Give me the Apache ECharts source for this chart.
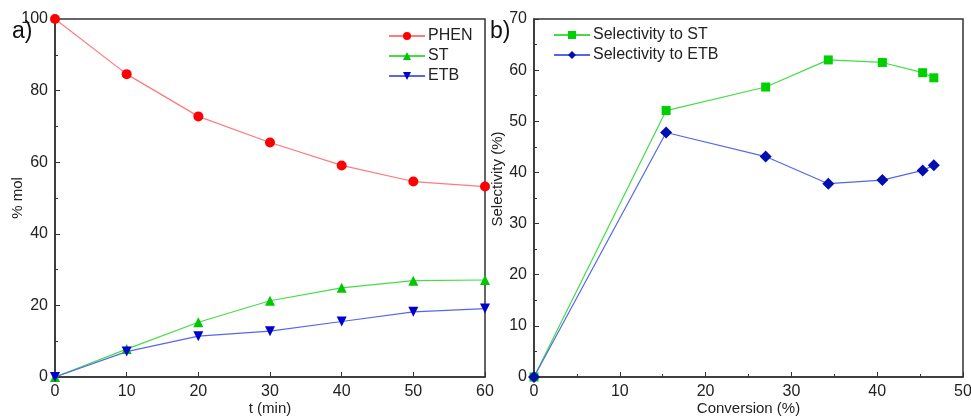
<!DOCTYPE html>
<html>
<head>
<meta charset="utf-8">
<script src="https://cdn.jsdelivr.net/npm/echarts@6/dist/echarts.min.js"></script>
<style>
  html, body { margin: 0; padding: 0; background: #fff; }
  #main { width: 971px; height: 417px; }
</style>
</head>
<body>
<div id="main"></div>
<script>
// panel a) composition vs time
var time = [0, 10, 20, 30, 40, 50, 60]
var phen = [100, 84.6, 72.8, 65.5, 59.1, 54.6, 53.2]
var st = [0, 7.8, 15.3, 21.3, 24.9, 26.9, 27.1]
var etb = [0, 7.1, 11.4, 12.8, 15.5, 18.2, 19.1]

// panel b) selectivity vs conversion
var conversion = [0, 15.4, 27.0, 34.3, 40.6, 45.3, 46.6]
var selST = [0, 52.1, 56.7, 62.0, 61.5, 59.5, 58.5]
var selETB = [0, 47.8, 43.1, 37.8, 38.5, 40.4, 41.4]

function pairs(xs, ys) {
  return xs.map(function (x, i) { return [x, ys[i]] })
}

var font = 'Liberation Sans, Arial, sans-serif'
var axisColor = '#333'

function valueAxis(opts) {
  return Object.assign({
    type: 'value',
    nameLocation: 'middle',
    nameMoveOverlap: false,
    nameTextStyle: {color: '#222', fontSize: 15, fontFamily: font},
    axisLine: {show: true, onZero: false, lineStyle: {color: axisColor, width: 1.5}},
    axisTick: {show: true, inside: true, length: 5, lineStyle: {color: axisColor, width: 1}},
    minorTick: {show: false},
    axisLabel: {color: '#222', fontSize: 16, fontFamily: font, margin: 7},
    splitLine: {show: false}
  }, opts)
}

var mainEcharts = echarts.init(document.getElementById('main'))
mainEcharts.setOption({
  backgroundColor: '#fff',
  animation: false,
  title: [
    {text: 'a)', left: 12, top: 20, padding: 0, textStyle: {fontSize: 23, fontWeight: 'normal', color: '#111', fontFamily: font}},
    {text: 'b)', left: 490, top: 20, padding: 0, textStyle: {fontSize: 23, fontWeight: 'normal', color: '#111', fontFamily: font}}
  ],
  legend: [
    {
      data: ['PHEN', 'ST', 'ETB'],
      orient: 'vertical',
      left: 388, top: 28, padding: 0,
      itemWidth: 36, itemHeight: 10, itemGap: 4,
      textStyle: {fontSize: 16, fontFamily: font, color: '#222', padding: [0, 0, 0, -2]}
    },
    {
      data: ['Selectivity to ST', 'Selectivity to ETB'],
      orient: 'vertical',
      left: 553, top: 27, padding: 0,
      itemWidth: 36, itemHeight: 10, itemGap: 4,
      textStyle: {fontSize: 16, fontFamily: font, color: '#222', padding: [0, 0, 0, -2]}
    }
  ],
  grid: [
    {left: 55, right: 486, top: 19, bottom: 40, outerBoundsMode: 'none', show: true, borderColor: axisColor, borderWidth: 1.5, backgroundColor: 'transparent'},
    {left: 534, right: 8, top: 19, bottom: 40, outerBoundsMode: 'none', show: true, borderColor: axisColor, borderWidth: 1.5, backgroundColor: 'transparent'}
  ],
  xAxis: [
    valueAxis({gridIndex: 0, min: 0, max: 60, interval: 10, name: 't (min)', nameGap: 24}),
    valueAxis({gridIndex: 1, min: 0, max: 50, interval: 10, name: 'Conversion (%)', nameGap: 24,
      minorTick: {show: true, splitNumber: 2, length: 3, lineStyle: {color: axisColor}}})
  ],
  yAxis: [
    valueAxis({gridIndex: 0, min: 0, max: 100, interval: 20, name: '% mol', nameGap: 30,
      minorTick: {show: true, splitNumber: 2, length: 3, lineStyle: {color: axisColor}}}),
    valueAxis({gridIndex: 1, min: 0, max: 70, interval: 10, name: 'Selectivity (%)', nameGap: 29,
      nameTextStyle: {color: '#222', fontSize: 15, fontFamily: font, padding: [0, 0, 0, 38]},
      minorTick: {show: true, splitNumber: 2, length: 3, lineStyle: {color: axisColor}}})
  ],
  series: [
    {
      name: 'PHEN', type: 'line', xAxisIndex: 0, yAxisIndex: 0,
      data: pairs(time, phen),
      symbol: 'circle', symbolSize: 10,
      lineStyle: {color: '#ff7a7a', width: 1.2},
      itemStyle: {color: '#ff0000'}
    },
    {
      name: 'ST', type: 'line', xAxisIndex: 0, yAxisIndex: 0,
      data: pairs(time, st),
      symbol: 'triangle', symbolSize: 10,
      lineStyle: {color: '#44dd44', width: 1.2},
      itemStyle: {color: '#00c800'}
    },
    {
      name: 'ETB', type: 'line', xAxisIndex: 0, yAxisIndex: 0,
      data: pairs(time, etb),
      symbol: 'triangle', symbolRotate: 180, symbolSize: 10,
      lineStyle: {color: '#5566ee', width: 1.2},
      itemStyle: {color: '#0000cc'}
    },
    {
      name: 'Selectivity to ST', type: 'line', xAxisIndex: 1, yAxisIndex: 1,
      data: pairs(conversion, selST),
      symbol: 'rect', symbolSize: 9,
      lineStyle: {color: '#44dd44', width: 1.2},
      itemStyle: {color: '#00d000'}
    },
    {
      name: 'Selectivity to ETB', type: 'line', xAxisIndex: 1, yAxisIndex: 1,
      data: pairs(conversion, selETB),
      symbol: 'diamond', symbolSize: 12,
      lineStyle: {color: '#5566ee', width: 1.2},
      itemStyle: {color: '#0010b0'}
    }
  ]
})
</script>
</body>
</html>
